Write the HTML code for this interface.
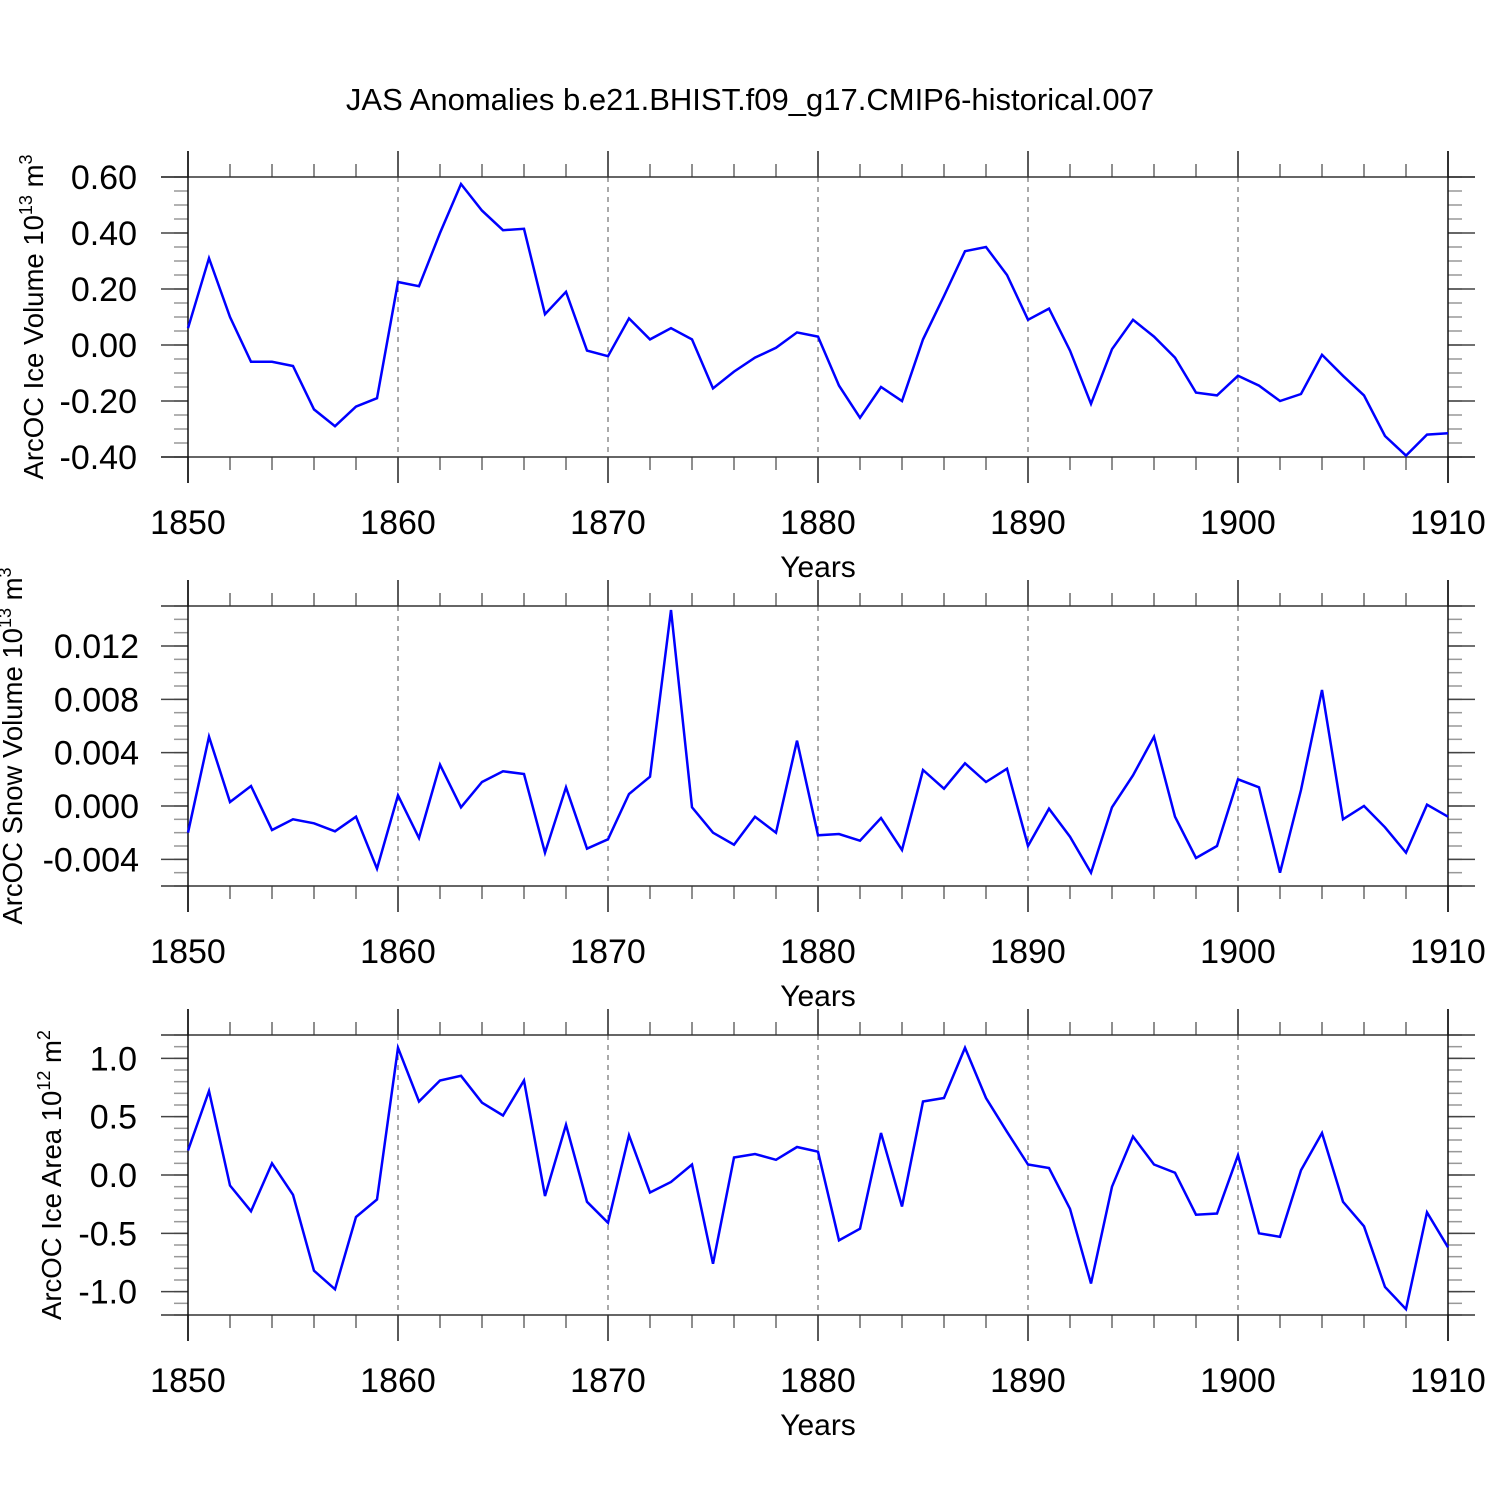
<!DOCTYPE html>
<html><head><meta charset="utf-8"><style>
html,body{margin:0;padding:0;background:#fff;}
svg{display:block;font-family:"Liberation Sans",Arial,sans-serif;}
</style></head><body>
<svg id="chart" width="1500" height="1500" viewBox="0 0 1500 1500" xmlns="http://www.w3.org/2000/svg">
<text x="750" y="110" font-size="31" text-anchor="middle">JAS Anomalies b.e21.BHIST.f09_g17.CMIP6-historical.007</text>
</svg>
<script>
const years = [];
for (let y = 1850; y <= 1910; y++) years.push(y);
const xTickLabels = ["1850","1860","1870","1880","1890","1900","1910"];
const iceVolume = [0.06,0.31,0.10,-0.06,-0.06,-0.075,-0.23,-0.29,-0.22,-0.19,0.225,0.21,0.40,0.575,0.48,0.41,0.415,0.11,0.19,-0.02,-0.04,0.095,0.02,0.06,0.02,-0.155,-0.095,-0.045,-0.01,0.045,0.03,-0.145,-0.26,-0.15,-0.20,0.02,0.175,0.335,0.35,0.25,0.09,0.13,-0.02,-0.21,-0.015,0.09,0.03,-0.045,-0.17,-0.18,-0.11,-0.145,-0.20,-0.175,-0.035,-0.11,-0.18,-0.325,-0.395,-0.32,-0.315];
const snowVolume = [-0.002,0.0052,0.0003,0.0015,-0.0018,-0.001,-0.0013,-0.0019,-0.0008,-0.0047,0.0008,-0.0024,0.0031,-0.0001,0.0018,0.0026,0.0024,-0.0035,0.0014,-0.0032,-0.0025,0.0009,0.0022,0.0147,-0.0001,-0.002,-0.0029,-0.0008,-0.002,0.0049,-0.0022,-0.0021,-0.0026,-0.0009,-0.0033,0.0027,0.0013,0.0032,0.0018,0.0028,-0.003,-0.0002,-0.0023,-0.005,-0.0001,0.0023,0.0052,-0.0008,-0.0039,-0.003,0.002,0.0014,-0.005,0.0012,0.0087,-0.001,0.0,-0.0016,-0.0035,0.0001,-0.0008];
const iceArea = [0.21,0.72,-0.09,-0.31,0.10,-0.17,-0.82,-0.98,-0.36,-0.21,1.09,0.63,0.81,0.85,0.62,0.51,0.81,-0.18,0.43,-0.23,-0.41,0.34,-0.15,-0.06,0.09,-0.76,0.15,0.18,0.13,0.24,0.20,-0.56,-0.46,0.36,-0.27,0.63,0.66,1.09,0.66,0.37,0.09,0.06,-0.29,-0.93,-0.10,0.33,0.09,0.02,-0.34,-0.33,0.17,-0.50,-0.53,0.04,0.36,-0.23,-0.44,-0.96,-1.15,-0.32,-0.62];
const iceVolumeTicks = ["0.60","0.40","0.20","0.00","-0.20","-0.40"];
const snowVolumeTicks = ["0.012","0.008","0.004","0.000","-0.004"];
const iceAreaTicks = ["1.0","0.5","0.0","-0.5","-1.0"];

const svg = document.getElementById('chart');
const NS = 'http://www.w3.org/2000/svg';
function mk(tag, attrs, parent){ const e=document.createElementNS(NS,tag); for(const k in attrs) e.setAttribute(k,attrs[k]); (parent||svg).appendChild(e); return e; }

const X0=188, X1=1448, Y0=1850, Y1=1910;
const xs = v => X0 + (v-Y0)/(Y1-Y0)*(X1-X0);

const panels = [
  {name:'ice-volume', top:177, min:-0.4, max:0.6, minor:0.05, ticks:iceVolumeTicks, data:iceVolume, title:'ArcOC Ice Volume 10', sup:'13', unit:' m', usup:'3', tx:33, tlx:137},
  {name:'snow-volume', top:606, min:-0.006, max:0.015, minor:0.001, ticks:snowVolumeTicks, data:snowVolume, title:'ArcOC Snow Volume 10', sup:'13', unit:' m', usup:'3', tx:12, tlx:139},
  {name:'ice-area', top:1035, min:-1.2, max:1.2, minor:0.1, ticks:iceAreaTicks, data:iceArea, title:'ArcOC Ice Area 10', sup:'12', unit:' m', usup:'2', tx:51, tlx:137}
];
const H=280;
panels.forEach(p=>{
  const g = mk('g',{});
  
  
  const ys = v => p.top + (p.max-v)/(p.max-p.min)*H;
  const bot = p.top+H;
  for(let yr=1860; yr<=1900; yr+=10){
    const l=mk('line',{x1:xs(yr),x2:xs(yr),y1:p.top,y2:bot,stroke:'#555','stroke-width':1,'stroke-dasharray':'5,5'},g);
    
    
  }
  const nMinor=Math.round((p.max-p.min)/p.minor);
  for(let i=0;i<=nMinor;i++){
    const v=p.min+i*p.minor, y=ys(v);
    mk('line',{x1:X0-14,x2:X0,y1:y,y2:y,stroke:'#999','stroke-width':1.5},g);
    mk('line',{x1:X1,x2:X1+14,y1:y,y2:y,stroke:'#999','stroke-width':1.5},g);
  }
  p.ticks.forEach(t=>{
    const y=ys(parseFloat(t));
    mk('line',{x1:X0-27,x2:X0,y1:y,y2:y,stroke:'#444','stroke-width':1.5},g);
    mk('line',{x1:X1,x2:X1+27,y1:y,y2:y,stroke:'#444','stroke-width':1.5},g);
    const tx=mk('text',{x:p.tlx,y:y+12,'font-size':34,'text-anchor':'end'},g);
    tx.textContent=t;
    
    
  });
  years.forEach(yr=>{
    if((yr-1850)%10===0 || (yr-1850)%2!==0) return;
    mk('line',{x1:xs(yr),x2:xs(yr),y1:p.top-13,y2:p.top,stroke:'#444','stroke-width':1.2},g);
    mk('line',{x1:xs(yr),x2:xs(yr),y1:bot,y2:bot+13,stroke:'#444','stroke-width':1.2},g);
  });
  xTickLabels.forEach(t=>{
    const x=xs(+t);
    mk('line',{x1:x,x2:x,y1:p.top-26,y2:p.top,stroke:'#222','stroke-width':1.5},g);
    mk('line',{x1:x,x2:x,y1:bot,y2:bot+26,stroke:'#222','stroke-width':1.5},g);
    const tx=mk('text',{x:x,y:bot+77,'font-size':34,'text-anchor':'middle'},g);
    tx.textContent=t;
    
    
  });
  mk('line',{x1:X0-27,x2:X1+27,y1:p.top,y2:p.top,stroke:'#333','stroke-width':1.5},g);
  mk('line',{x1:X0-27,x2:X1+27,y1:bot,y2:bot,stroke:'#333','stroke-width':1.5},g);
  mk('line',{x1:X0,x2:X0,y1:p.top-26,y2:bot+26,stroke:'#111','stroke-width':1.5},g);
  mk('line',{x1:X1,x2:X1,y1:p.top-26,y2:bot+26,stroke:'#111','stroke-width':1.5},g);
  const pts=p.data.map((v,i)=>xs(years[i]).toFixed(1)+','+ys(v).toFixed(1)).join(' ');
  const pl=mk('polyline',{points:pts,fill:'none',stroke:'#0000ff','stroke-width':2.5,'stroke-linejoin':'miter'},g);
  
  
  const xt=mk('text',{x:818,y:bot+120,'font-size':30,'text-anchor':'middle'},g);
  xt.textContent='Years';
  
  
  const cy=p.top+140;
  const yt=mk('text',{x:0,y:0,'font-size':27.5,'text-anchor':'middle',transform:`translate(${p.tx+10},${cy}) rotate(-90)`},g);
  
  
  const a=mk('tspan',{},yt); a.textContent=p.title;
  const b=mk('tspan',{dy:-11,'font-size':18},yt); b.textContent=p.sup;
  const c=mk('tspan',{dy:11},yt); c.textContent=p.unit;
  const d=mk('tspan',{dy:-11,'font-size':18},yt); d.textContent=p.usup;
});
</script>
</body></html>
